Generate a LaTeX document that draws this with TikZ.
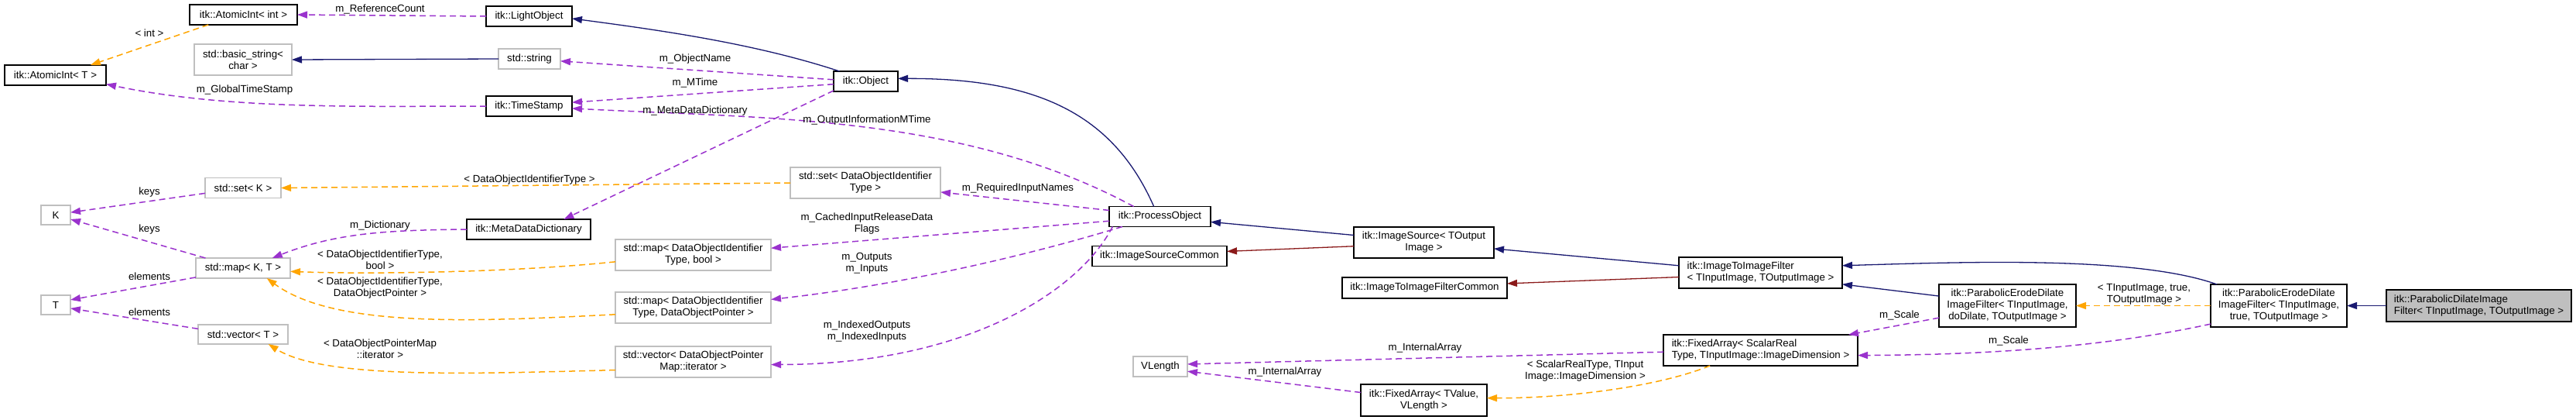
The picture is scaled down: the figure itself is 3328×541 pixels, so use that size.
\documentclass[tikz,border=0pt]{standalone}
\usepackage{fontspec}
\setmainfont{Liberation Sans}
\usepackage{tikz}
\usetikzlibrary{arrows.meta,positioning}
\definecolor{inhblue}{HTML}{191970}
\definecolor{privred}{HTML}{8B1A1A}
\definecolor{usepurple}{HTML}{9A32CD}
\definecolor{tplorange}{HTML}{FFA500}
\definecolor{extgray}{HTML}{BFBFBF}

\begin{document}
\begin{tikzpicture}[x=1pt,y=1pt,node distance=30pt,
  every node/.style={font=\fontsize{13.3}{15}\selectfont},
  cls/.style={draw=black,line width=1.4pt,align=center,inner sep=0pt,outer sep=0pt,fill=#1},cls/.default=white,
  ext/.style={cls,draw=extgray},
  sz/.style 2 args={minimum width=#1pt,minimum height=#2pt},
  lbl/.style={align=center,inner sep=0pt},
  tip/.style={-{Triangle[length=13pt,width=9pt]}},
  inh/.style={tip,color=inhblue,line width=1.3pt},
  priv/.style={tip,color=privred,line width=1.3pt},
  use/.style={tip,color=usepurple,line width=1.5pt,dash pattern=on 8pt off 5pt},
  tpl/.style={tip,color=tplorange,line width=1.5pt,dash pattern=on 8pt off 5pt}]
  \useasboundingbox (0,0) rectangle (3328,-541);
  % classes
  \node[cls,sz={139}{26}] (aint) at (314.5,-19) {itk::AtomicInt< int >};
  \node[cls,sz={111}{26}] (light) at (683.5,-21) {itk::LightObject};
  \node[ext,sz={126}{40}] (bstr) at (314,-77) {std::basic\_string<\\char >};
  \node[ext,sz={80}{26}] (str) at (684,-76) {std::string};
  \node[cls,sz={131}{26}] (aintT) at (71.5,-97) {itk::AtomicInt< T >};
  \node[cls,sz={83}{26}] (obj) at (1118.5,-105) {itk::Object};
  \node[cls,sz={111}{26},below=90pt of light] (tstamp) {itk::TimeStamp};
  \node[ext,sz={98}{26}] (setK) at (314,-242.5) {std::set< K >};
  \node[ext,sz={194}{40}] (setDO) at (1118,-236) {std::set< DataObjectIdentifier\\Type >};
  \node[ext,sz={38}{25}] (K) at (72,-277.5) {K};
  \node[cls,sz={160}{26}] (mdd) at (683,-296) {itk::MetaDataDictionary};
  \node[cls,sz={131}{26}] (proc) at (1498.5,-279.5) {itk::ProcessObject};
  \node[ext,sz={122}{26}] (mapKT) at (314,-346) {std::map< K, T >};
  \node[ext,sz={201}{40}] (mapB) at (895.5,-329) {std::map< DataObjectIdentifier\\Type, bool >};
  \node[cls,sz={181}{40}] (isrc) at (1839.5,-313) {itk::ImageSource< TOutput\\Image >};
  \node[cls,sz={174}{26}] (isrcC) at (1498,-330.5) {itk::ImageSourceCommon};
  \node[ext,sz={38}{25},below=91pt of K] (T) {T};
  \node[cls,sz={211}{40},align=left] (i2i) at (2274.5,-352) {itk::ImageToImageFilter\\< TInputImage, TOutputImage >};
  \node[cls,sz={213}{27}] (i2iC) at (1840.5,-371.5) {itk::ImageToImageFilterCommon};
  \node[ext,sz={201}{40},below=28pt of mapB] (mapP) {std::map< DataObjectIdentifier\\Type, DataObjectPointer >};
  \node[cls,sz={177}{55}] (pedD) at (2593.5,-394.5) {itk::ParabolicErodeDilate\\ImageFilter< TInputImage,\\doDilate, TOutputImage >};
  \node[cls,sz={176}{55},right=174pt of pedD] (pedT) {itk::ParabolicErodeDilate\\ImageFilter< TInputImage,\\true, TOutputImage >};
  \node[cls=extgray,sz={239}{41},align=left,right=51pt of pedT] (pdil) {itk::ParabolicDilateImage\\Filter< TInputImage, TOutputImage >};
  \node[ext,sz={116}{25}] (vecT) at (314,-431.5) {std::vector< T >};
  \node[ext,sz={201}{40},below=30pt of mapP] (vecP) {std::vector< DataObjectPointer\\Map::iterator >};
  \node[ext,sz={70}{26}] (vlen) at (1499,-473) {VLength};
  \node[cls,sz={163}{41}] (fixV) at (1839.5,-516.5) {itk::FixedArray< TValue,\\VLength >};
  \node[cls,sz={251}{40},align=left] (fixS) at (2274.5,-452) {itk::FixedArray< ScalarReal\\Type, TInputImage::ImageDimension >};
  % inheritance
  \foreach \a/\b in {str.west/bstr.east,isrc.174/proc.-6,i2i.175/isrc.-5,pedD.172/i2i.-8,pdil.west/pedT.east}
    \draw[inh] (\a) -- (\b);
  \foreach \a/\b in {isrc.183/isrcC.4,i2i.183/i2iC.3}
    \draw[priv] (\a) -- (\b);
  \draw[inh] (obj.159) .. controls (975,-56) and (853,-39) .. (light.-3);
  \draw[inh] (proc.121) .. controls (1438,-147) and (1340,-101) .. (obj.5);
  \draw[inh] (pedT.161) .. controls (2760,-330) and (2540,-338) .. (i2i.5);
  % members
  \foreach \a/\b in {light.west/aint.east,obj.177/str.-4,obj.185/tstamp.5,obj.196/mdd.16,proc.173/setDO.-7,
      setK.188/K.10,mapKT.165/K.-16,mapKT.191/T.19,vecT.173/T.-13,proc.185/mapB.5,pedD.190/fixS.10,
      fixS.181/vlen.5,fixV.173/vlen.-10}
    \draw[use] (\a) -- (\b);
  \draw[use] (tstamp.west) .. controls (468,-137) and (297,-142) .. (aintT.-10);
  \draw[use] (proc.159) .. controls (1245,-148) and (990,-153) .. (tstamp.-3);
  \draw[use] (mdd.west) .. controls (503,-297) and (435,-300) .. (mapKT.19);
  \draw[use] (proc.195) .. controls (1307,-336) and (1145,-370) .. (mapP.6);
  \draw[use] (proc.192) .. controls (1395,-375) and (1250,-470) .. (vecP.-2);
  \draw[use] (pedT.195) .. controls (2710,-450) and (2550,-458) .. (fixS.-3);
  % templates
  \foreach \a/\b in {aint.196/aintT.16,setDO.west/setK.east,pedT.west/pedD.east}
    \draw[tpl] (\a) -- (\b);
  \draw[tpl] (mapB.185) .. controls (660,-352) and (470,-354) .. (mapKT.-4);
  \draw[tpl] (mapP.185) .. controls (615,-415) and (433,-424) .. (mapKT.-23);
  \draw[tpl] (vecP.186) .. controls (615,-482) and (420,-490) .. (vecT.-21);
  \draw[tpl] (fixS.197) .. controls (2140,-500) and (2020,-514) .. (fixV.2);
  % labels
  \node[lbl] (lRef) at (491,-12) {m\_ReferenceCount};
  \node[lbl] (lInt) at (193,-43) {< int >};
  \node[lbl] (lName) at (898,-76) {m\_ObjectName};
  \node[lbl] (lMTime) at (898,-107) {m\_MTime};
  \node[lbl] (lGlobal) at (316,-116) {m\_GlobalTimeStamp};
  \node[lbl] (lMeta) at (898,-143) {m\_MetaDataDictionary};
  \node[lbl] (lOutInfo) at (1120,-155) {m\_OutputInformationMTime};
  \node[lbl] (lSetTpl) at (684,-232) {< DataObjectIdentifierType >};
  \node[lbl] (lReq) at (1315,-243) {m\_RequiredInputNames};
  \node[lbl] (lKeys1) at (193,-248) {keys};
  \node[lbl] (lCached) at (1120,-288.5) {m\_CachedInputReleaseData\\Flags};
  \node[lbl] (lDict) at (491,-291) {m\_Dictionary};
  \node[lbl] (lKeys2) at (193,-296) {keys};
  \node[lbl] (lMapB) at (491,-335.5) {< DataObjectIdentifierType,\\bool >};
  \node[lbl] (lIO) at (1120,-339.5) {m\_Outputs\\m\_Inputs};
  \node[lbl] (lElem1) at (193,-357) {elements};
  \node[lbl] (lMapP) at (491,-371.5) {< DataObjectIdentifierType,\\DataObjectPointer >};
  \node[lbl] (lTrue) at (2770,-380) {< TInputImage, true,\\TOutputImage >};
  \node[lbl] (lElem2) at (193,-403) {elements};
  \node[lbl] (lScale1) at (2454,-407) {m\_Scale};
  \node[lbl] (lIdx) at (1120,-427.5) {m\_IndexedOutputs\\m\_IndexedInputs};
  \node[lbl] (lScale2) at (2595,-440) {m\_Scale};
  \node[lbl] (lArr1) at (1841,-449) {m\_InternalArray};
  \node[lbl] (lVec) at (491,-450) {< DataObjectPointerMap\\::iterator >};
  \node[lbl] (lArr2) at (1660,-480) {m\_InternalArray};
  \node[lbl] (lFixTpl) at (2048,-479) {< ScalarRealType, TInput\\Image::ImageDimension >};
\end{tikzpicture}
\end{document}
